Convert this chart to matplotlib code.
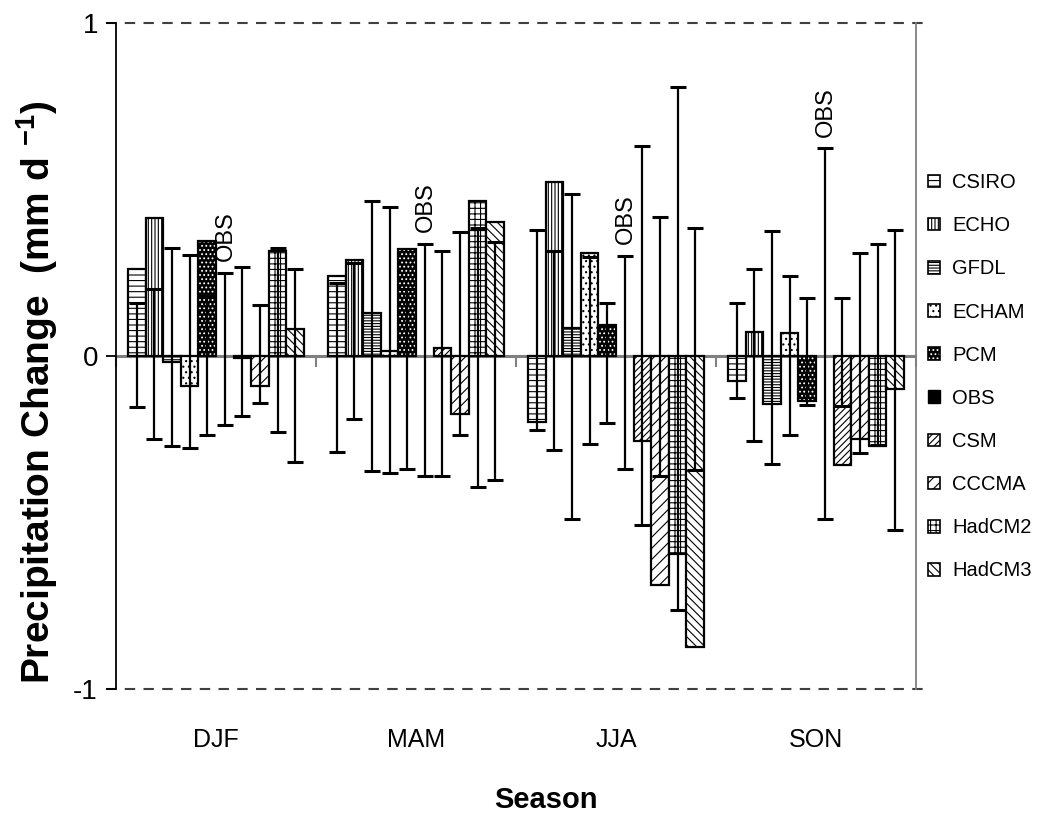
import numpy as np
import matplotlib
matplotlib.use("Agg")
import matplotlib.pyplot as plt
from matplotlib.patches import Patch
from matplotlib.legend_handler import HandlerTuple

plt.rcParams['font.family'] = ['Liberation Sans', 'DejaVu Sans']
plt.rcParams['mathtext.fontset'] = 'custom'
plt.rcParams['mathtext.rm'] = 'Liberation Sans'
plt.rcParams['mathtext.bf'] = 'Liberation Sans:bold'
plt.rcParams['hatch.linewidth'] = 0.8

# Seasonal precipitation change per model (mm/day)
seasons = ['DJF', 'MAM', 'JJA', 'SON']
models = ['CSIRO', 'ECHO', 'GFDL', 'ECHAM', 'PCM', 'OBS', 'CSM', 'CCCMA', 'HadCM2', 'HadCM3']

csiro = [0.26, 0.24, -0.20, -0.077]
echo = [0.415, 0.288, 0.523, 0.073]
gfdl = [-0.017, 0.128, 0.085, -0.144]
echam = [-0.09, 0.015, 0.308, 0.068]
pcm = [0.345, 0.32, 0.093, -0.137]
obs = [0.0, 0.0, 0.0, 0.0]
csm = [-0.005, 0.025, -0.257, -0.329]
cccma = [-0.09, -0.174, -0.689, -0.25]
hadcm2 = [0.315, 0.465, -0.594, -0.27]
hadcm3 = [0.08, 0.403, -0.874, -0.10]

# upper / lower ends of the variability range drawn as error bars
csiro_hi = [0.16, 0.22, 0.378, 0.158]
csiro_lo = [-0.153, -0.29, -0.224, -0.127]
echo_hi = [0.20, 0.28, 0.316, 0.26]
echo_lo = [-0.25, -0.19, -0.284, -0.257]
gfdl_hi = [0.323, 0.466, 0.486, 0.376]
gfdl_lo = [-0.272, -0.345, -0.489, -0.325]
echam_hi = [0.303, 0.446, 0.296, 0.24]
echam_lo = [-0.277, -0.352, -0.264, -0.237]
pcm_hi = [0.18, 0.20, 0.158, 0.173]
pcm_lo = [-0.237, -0.339, -0.202, -0.147]
obs_hi = [0.25, 0.336, 0.301, 0.623]
obs_lo = [-0.209, -0.36, -0.34, -0.49]
csm_hi = [0.268, 0.316, 0.63, 0.173]
csm_lo = [-0.182, -0.36, -0.509, -0.152]
cccma_hi = [0.153, 0.371, 0.418, 0.308]
cccma_lo = [-0.142, -0.237, -0.36, -0.292]
hadcm2_hi = [0.323, 0.383, 0.806, 0.336]
hadcm2_lo = [-0.23, -0.394, -0.762, -0.267]
hadcm3_hi = [0.261, 0.343, 0.383, 0.378]
hadcm3_lo = [-0.318, -0.372, -0.344, -0.524]

values = [csiro, echo, gfdl, echam, pcm, obs, csm, cccma, hadcm2, hadcm3]
highs = [csiro_hi, echo_hi, gfdl_hi, echam_hi, pcm_hi, obs_hi, csm_hi, cccma_hi, hadcm2_hi, hadcm3_hi]
lows = [csiro_lo, echo_lo, gfdl_lo, echam_lo, pcm_lo, obs_lo, csm_lo, cccma_lo, hadcm2_lo, hadcm3_lo]

hatches = ['---', '|||||', '------', '...', None, None, '/////', '///', '+++', '\\\\\\\\']

fig = plt.figure(figsize=(10.45, 8.14), dpi=100)
ax = fig.add_axes([0.111, 0.1536, 0.7655, 0.8185])

x = np.arange(len(seasons))
w = 0.088
handles = []
for i, m in enumerate(models):
    xs = x + (i - 4.5) * w
    v = np.array(values[i])
    if m == 'PCM':
        # black bar with white dots
        ax.bar(xs, v, w, color='black', edgecolor='white', hatch='....', lw=0, zorder=2)
        ax.bar(xs, v, w, fill=False, edgecolor='black', lw=1.6, zorder=3)
        h = (Patch(facecolor='black', edgecolor='white', hatch='....', lw=0),
             Patch(fill=False, edgecolor='black', lw=1.2))
    elif m == 'OBS':
        ax.bar(xs, v, w, color='black', lw=0, zorder=2)
        h = Patch(facecolor='black', edgecolor='black')
    else:
        ax.bar(xs, v, w, color='white', edgecolor='black', hatch=hatches[i], lw=1.6, zorder=2)
        h = Patch(facecolor='white', edgecolor='black', hatch=hatches[i], lw=1.2)
    handles.append(h)

    hi = np.array(highs[i])
    lo = np.array(lows[i])
    ax.errorbar(xs, (hi + lo) / 2, yerr=(hi - lo) / 2, fmt='none', ecolor='black',
                elinewidth=1.6, capsize=6, capthick=2.2, zorder=4)
    if m == 'OBS':
        for xx, top in zip(xs, hi):
            ax.text(xx + 0.005, top + 0.035, 'OBS', rotation=90, ha='center', va='bottom',
                    fontsize=17)

ax.set_xlim(-0.5, 3.5)
ax.set_ylim(-1, 1)

# zero line with small category separators
ax.axhline(0, color='#808080', lw=2.2, zorder=1)
for b in np.arange(-0.5, 4.0, 1.0):
    ax.plot([b, b], [0, -0.03], color='#808080', lw=1.5, zorder=1, clip_on=False)

ax.plot([-0.55, 3.57], [1, 1], color='#404040', lw=1.5, ls=(0, (5, 4)), zorder=1, clip_on=False)
ax.plot([-0.55, 3.57], [-1, -1], color='#404040', lw=1.5, ls=(0, (5, 4)), zorder=1, clip_on=False)

ax.spines['top'].set_visible(False)
ax.spines['bottom'].set_visible(False)
ax.spines['left'].set_linewidth(1.3)
ax.spines['right'].set_color('#808080')
ax.spines['right'].set_linewidth(1.3)

ax.set_yticks([-1, 0, 1])
ax.set_yticklabels(['-1', '0', '1'])
ax.tick_params(axis='y', length=7, width=1.3, pad=6, labelsize=20)
ax.set_xticks(x)
ax.set_xticklabels(seasons)
ax.tick_params(axis='x', length=0, pad=28, labelsize=18)

fig.text(546 / 1045, 1 - 800 / 814, 'Season', ha='center', va='center',
         fontsize=21, fontweight='bold')
fig.text(37 / 1045, 1 - 392 / 814, r'Precipitation Change  (mm d $^{\mathbf{-1}}$)',
         rotation=90, ha='center', va='center', fontsize=28, fontweight='bold')

fig.legend(handles, models, loc='upper left', bbox_to_anchor=(928 / 1045, 1 - 173 / 814),
           frameon=False, fontsize=14.5, handlelength=0.6, handleheight=0.6,
           handletextpad=0.6, labelspacing=1.2, borderpad=0, borderaxespad=0,
           handler_map={tuple: HandlerTuple(ndivide=1, pad=0)})

fig.savefig('out.png', dpi=100)
